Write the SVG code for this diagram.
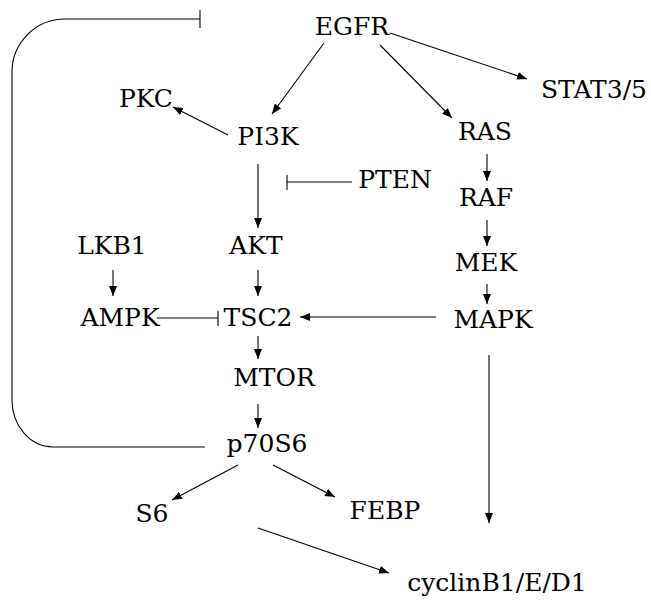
<svg xmlns="http://www.w3.org/2000/svg" width="651" height="601" viewBox="0 0 651 601">
<defs>
<marker id="ah" viewBox="0 0 10 8" refX="10" refY="4" markerWidth="10" markerHeight="8" markerUnits="userSpaceOnUse" orient="auto">
<path d="M0,0 L10,4 L0,8 Z" fill="#000"/>
</marker>
</defs>
<rect width="651" height="601" fill="#fff"/>
<g id="connectors" stroke="#000" stroke-width="1.1" fill="none">
<line marker-end="url(#ah)" x1="324" y1="43" x2="272" y2="114"/>
<line marker-end="url(#ah)" x1="380" y1="45" x2="452" y2="118"/>
<line marker-end="url(#ah)" x1="390" y1="33" x2="527" y2="79"/>
<line marker-end="url(#ah)" x1="228" y1="135" x2="173" y2="107"/>
<line marker-end="url(#ah)" x1="258" y1="164" x2="258" y2="228"/>
<line x1="352" y1="182" x2="287" y2="182"/>
<line x1="287" y1="175" x2="287" y2="190"/>
<line marker-end="url(#ah)" x1="487" y1="154" x2="487" y2="181"/>
<line marker-end="url(#ah)" x1="487" y1="220" x2="487" y2="246"/>
<line marker-end="url(#ah)" x1="487" y1="284" x2="487" y2="304"/>
<line marker-end="url(#ah)" x1="113" y1="270" x2="113" y2="296"/>
<line marker-end="url(#ah)" x1="258" y1="270" x2="258" y2="296"/>
<line x1="157" y1="318" x2="218" y2="318"/>
<line x1="218" y1="311" x2="218" y2="326"/>
<line marker-end="url(#ah)" x1="436" y1="317" x2="300" y2="317"/>
<line marker-end="url(#ah)" x1="258" y1="336" x2="258" y2="359"/>
<line marker-end="url(#ah)" x1="258" y1="404" x2="258" y2="428"/>
<line marker-end="url(#ah)" x1="489" y1="355" x2="489" y2="523"/>
<line marker-end="url(#ah)" x1="238" y1="465" x2="172" y2="500"/>
<line marker-end="url(#ah)" x1="273" y1="465" x2="335" y2="497"/>
<line marker-end="url(#ah)" x1="258" y1="528" x2="389" y2="573"/>
<path d="M205,447 H53 A41,47 0 0 1 12,400 V72 A53,53 0 0 1 65,19 H200"/>
<line x1="200" y1="10" x2="200" y2="28"/>
</g>
<g font-family="DejaVu Serif" font-size="25" fill="#000" text-anchor="middle">
<g id="EGFR"><text x="352" y="35" style="font-family:'DejaVu Serif',serif">EGFR</text></g>
<g id="STAT35"><text x="594" y="98" style="font-family:'DejaVu Serif',serif">STAT3/5</text></g>
<g id="PKC"><text x="146" y="107" style="font-family:'DejaVu Serif',serif">PKC</text></g>
<g id="PI3K"><text x="268" y="145" style="font-family:'DejaVu Serif',serif">PI3K</text></g>
<g id="RAS"><text x="485" y="140" style="font-family:'DejaVu Serif',serif">RAS</text></g>
<g id="PTEN"><text x="395" y="188" style="font-family:'DejaVu Serif',serif">PTEN</text></g>
<g id="RAF"><text x="486" y="206" style="font-family:'DejaVu Serif',serif">RAF</text></g>
<g id="LKB1"><text x="112" y="254" style="font-family:'DejaVu Serif',serif">LKB1</text></g>
<g id="AKT"><text x="256" y="254" style="font-family:'DejaVu Serif',serif">AKT</text></g>
<g id="MEK"><text x="486" y="271" style="font-family:'DejaVu Serif',serif">MEK</text></g>
<g id="AMPK"><text x="120" y="326" style="font-family:'DejaVu Serif',serif">AMPK</text></g>
<g id="TSC2"><text x="258" y="326" style="font-family:'DejaVu Serif',serif">TSC2</text></g>
<g id="MAPK"><text x="493" y="328" style="font-family:'DejaVu Serif',serif">MAPK</text></g>
<g id="MTOR"><text x="274" y="386" style="font-family:'DejaVu Serif',serif">MTOR</text></g>
<g id="p70S6"><text x="267" y="452" style="font-family:'DejaVu Serif',serif">p70S6</text></g>
<g id="S6"><text x="152" y="522" style="font-family:'DejaVu Serif',serif">S6</text></g>
<g id="FEBP"><text x="385" y="519" style="font-family:'DejaVu Serif',serif">FEBP</text></g>
<g id="cyclin"><text x="497" y="591" style="font-family:'DejaVu Serif',serif">cyclinB1/E/D1</text></g>
</g>
</svg>
